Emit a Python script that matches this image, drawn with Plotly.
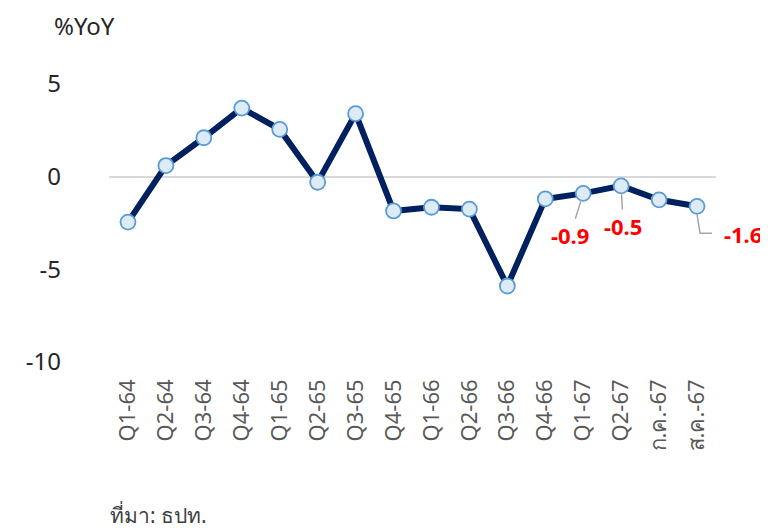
import plotly.graph_objects as go

categories = ["Q1-64", "Q2-64", "Q3-64", "Q4-64", "Q1-65", "Q2-65", "Q3-65", "Q4-65",
              "Q1-66", "Q2-66", "Q3-66", "Q4-66", "Q1-67", "Q2-67", "ก.ค.-67", "ส.ค.-67"]
values = [-2.45, 0.6, 2.1, 3.7, 2.55, -0.3, 3.4, -1.85,
          -1.65, -1.75, -5.9, -1.2, -0.9, -0.5, -1.25, -1.6]
y_ticks = [5, 0, -5, -10]
y_tick_text = ["5", "0", "-5", "-10"]
arrow_labels = {"Q1-67": (-13, 42), "Q2-67": (2, 40)}
elbow_label = "ส.ค.-67"

FONT = "Noto Sans, Tahoma, Leelawadee UI, sans-serif"
RED_FONT = dict(color="#FF0000", size=22, family=FONT, weight="bold")

fig = go.Figure()
fig.add_trace(go.Scatter(
    x=categories, y=values, mode="lines+markers",
    line=dict(color="#002060", width=6),
    marker=dict(size=15, color="#DDEBF7", line=dict(color="#5B9BD5", width=1.8)),
    showlegend=False, hoverinfo="skip"))

for cat, (ax, ay) in arrow_labels.items():
    v = values[categories.index(cat)]
    fig.add_annotation(x=cat, y=v, text=f"{v:.1f}", showarrow=True,
                       arrowhead=0, arrowwidth=1.5, arrowcolor="#A6A6A6",
                       ax=ax, ay=ay, standoff=7, font=RED_FONT)

# elbow leader label
ei = categories.index(elbow_label)
ev = values[ei]
fig.add_annotation(x=ei, y=ev, text=f"{ev:.1f}", showarrow=False,
                   xshift=46, yshift=-28, font=RED_FONT)
fig.add_shape(type="path", xref="x", yref="y", xsizemode="pixel", ysizemode="pixel",
              xanchor=ei, yanchor=ev, path="M 0,-8 L 3,-27 L 15,-27",
              line=dict(color="#A6A6A6", width=1.5))

fig.add_annotation(text="%YoY", xref="paper", yref="paper", x=-0.04, y=1.21,
                   xanchor="center", yanchor="middle", showarrow=False,
                   font=dict(size=24, color="#262626", family=FONT))
fig.add_annotation(text="ที่มา: ธปท.", xref="paper", yref="paper", x=-0.002, y=-0.55,
                   xanchor="left", yanchor="middle", showarrow=False,
                   font=dict(size=21, color="#404040", family=FONT))

fig.update_layout(
    width=760, height=524,
    margin=dict(l=101, r=52, t=76, b=170),
    paper_bgcolor="white", plot_bgcolor="white",
    font=dict(family=FONT),
    xaxis=dict(type="category", range=[-0.5, 15.5], showgrid=False, showline=False,
               zeroline=False, tickangle=-90, ticks="", automargin=False,
               tickfont=dict(size=22, color="#595959"), ticklabelstandoff=12),
    yaxis=dict(range=[-10, 5], tickvals=y_ticks, ticktext=y_tick_text,
               showgrid=False, showline=False, automargin=False,
               zeroline=True, zerolinecolor="#D9D9D9", zerolinewidth=2,
               tickfont=dict(size=24, color="#262626"), ticklabelstandoff=47),
)
fig.write_html("out.html")
